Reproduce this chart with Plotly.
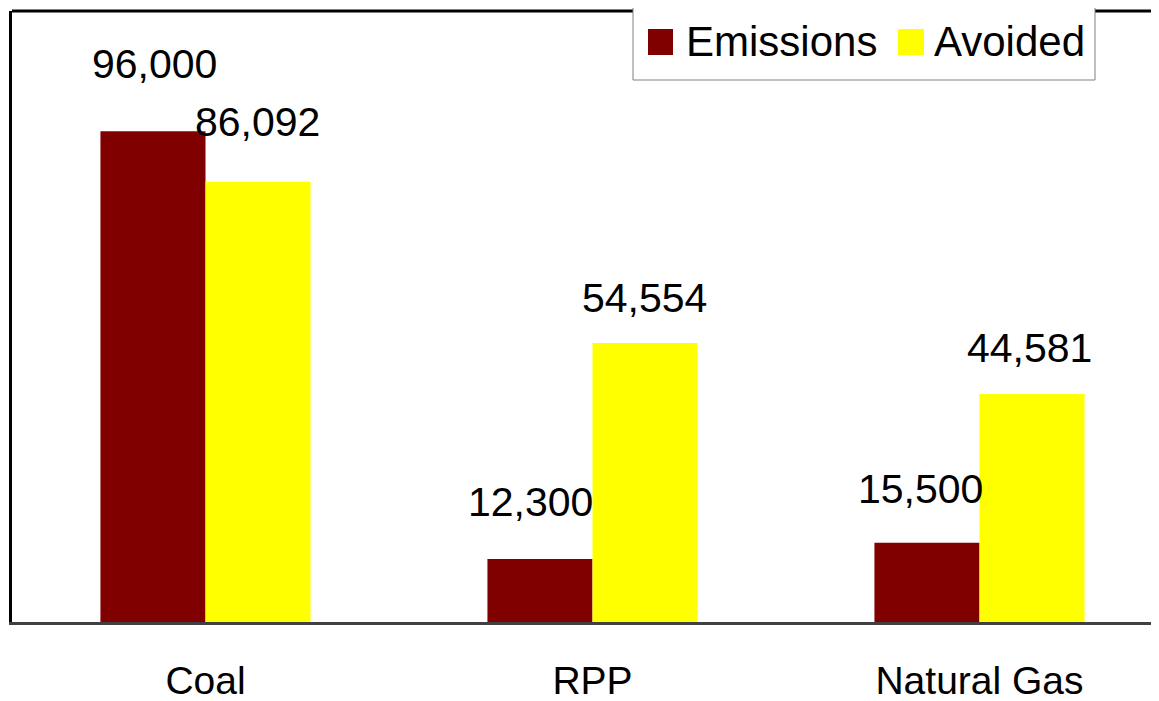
import plotly.graph_objects as go

categories = ["Coal", "RPP", "Natural Gas"]
emissions = [96000, 12300, 15500]
avoided = [86092, 54554, 44581]
series_names = ["Emissions", "Avoided"]

# styles / label placement tweaks (pixels)
COL_EM = "#800000"
COL_AV = "#FFFF00"
FONT = "Liberation Sans, Arial, sans-serif"
em_label_dx = [1, -10, -7]
av_label_dx = [0, 0, -2]
em_label_dy = [67, 57, 54]
av_label_dy = [60, 45, 46]

OFF = 8  # page body margin
W, H = 1159 - OFF, 701 - OFF
L, T, B = 12 - OFF, 11 - OFF, 79
PW = W - L
PH = H - T - B
CAT_W = 387.0

fig = go.Figure()
fig.add_trace(go.Bar(x=categories, y=emissions, name=series_names[0],
                     marker=dict(color=COL_EM, line=dict(width=0)), showlegend=False))
fig.add_trace(go.Bar(x=categories, y=avoided, name=series_names[1],
                     marker=dict(color=COL_AV, line=dict(width=0)), showlegend=False))

annotations = []
for i, c in enumerate(categories):
    annotations.append(dict(x=c, y=emissions[i], xref="x", yref="y", text=f"{emissions[i]:,}",
                            showarrow=False, xanchor="center", yanchor="middle",
                            xshift=-52 + em_label_dx[i], yshift=em_label_dy[i],
                            font=dict(family=FONT, size=41, color="black")))
    annotations.append(dict(x=c, y=avoided[i], xref="x", yref="y", text=f"{avoided[i]:,}",
                            showarrow=False, xanchor="center", yanchor="middle",
                            xshift=52 + av_label_dx[i], yshift=av_label_dy[i],
                            font=dict(family=FONT, size=41, color="black")))


def px(xs):
    # screen pixel x -> paper
    return (xs - OFF - L) / PW


def py(ys):
    # screen pixel y -> paper
    return (H - B - (ys - OFF)) / PH


shapes = [
    # top border of the plot area
    dict(type="line", xref="paper", yref="paper", x0=0, x1=1, y0=1, y1=1,
         line=dict(color="black", width=3)),
    # legend box
    dict(type="rect", xref="paper", yref="paper", x0=px(633), x1=px(1095), y0=py(80), y1=py(3),
         fillcolor="white", line=dict(color="#808080", width=1)),
    dict(type="rect", xref="paper", yref="paper", x0=px(648), x1=px(673), y0=py(55), y1=py(29),
         fillcolor=COL_EM, line=dict(width=0)),
    dict(type="rect", xref="paper", yref="paper", x0=px(898), x1=px(924), y0=py(55), y1=py(29),
         fillcolor=COL_AV, line=dict(width=0)),
]
annotations.append(dict(x=px(684), y=py(41), xref="paper", yref="paper", text=series_names[0],
                        showarrow=False, xanchor="left", yanchor="middle",
                        font=dict(family=FONT, size=42, color="black")))
annotations.append(dict(x=px(932), y=py(41), xref="paper", yref="paper", text=series_names[1],
                        showarrow=False, xanchor="left", yanchor="middle",
                        font=dict(family=FONT, size=42, color="black")))

fig.update_layout(
    width=W, height=H,
    margin=dict(l=L, r=0, t=T, b=B, pad=0),
    paper_bgcolor="white", plot_bgcolor="white",
    barmode="group", bargap=0.457, bargroupgap=0,
    showlegend=False,
    shapes=shapes,
    annotations=annotations,
    xaxis=dict(type="category", range=[-0.5, -0.5 + PW / CAT_W],
               showline=True, linecolor="#404040", linewidth=3, mirror=False,
               showgrid=False, zeroline=False, ticks="",
               tickfont=dict(family=FONT, size=39, color="black"),
               ticklabelstandoff=22),
    yaxis=dict(range=[0, 119500], showline=True, linecolor="black", linewidth=3,
               showgrid=False, zeroline=False, showticklabels=False, ticks=""),
)

fig.write_html("out.html")
